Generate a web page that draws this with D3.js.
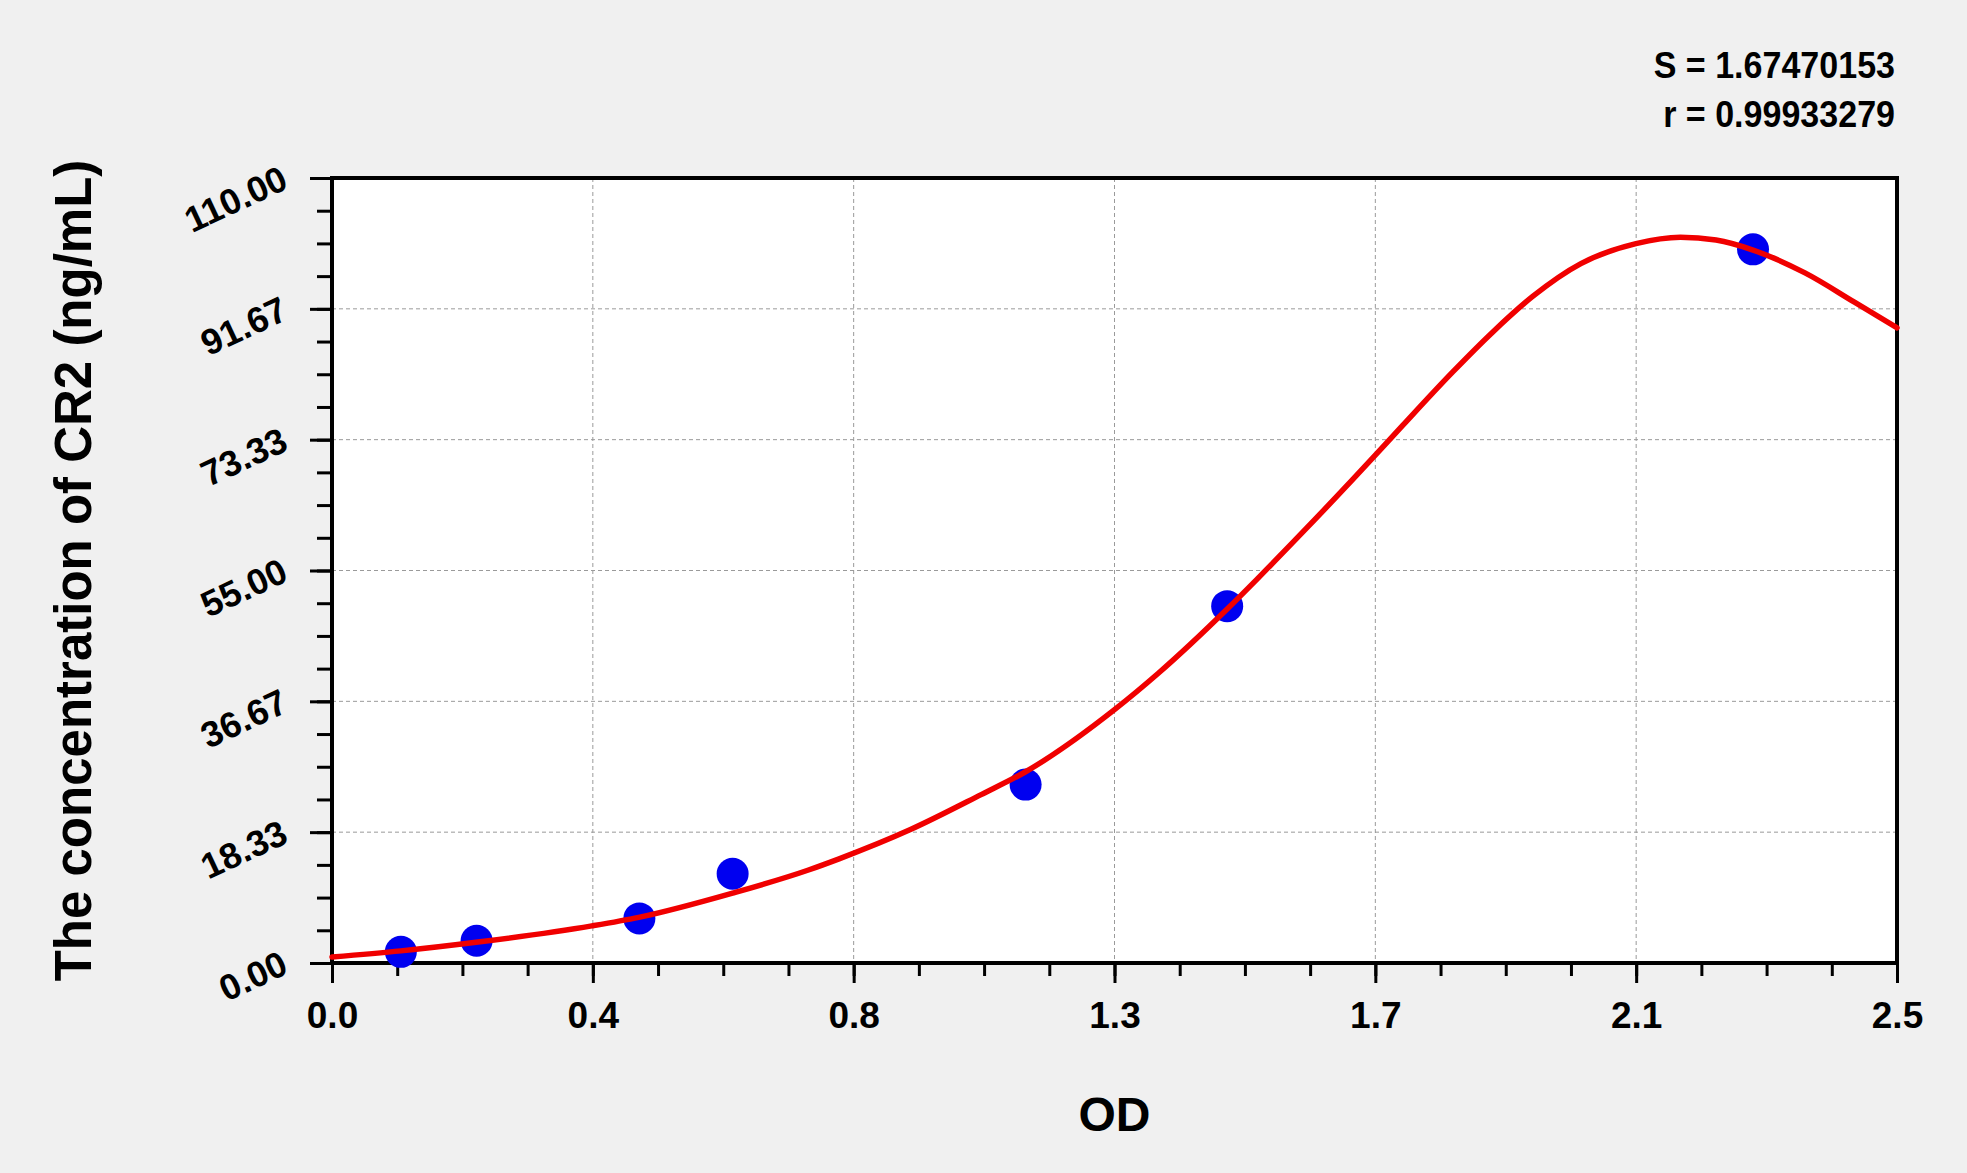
<!DOCTYPE html>
<html>
<head>
<meta charset="utf-8">
<script src="https://cdn.jsdelivr.net/npm/d3@7"></script>
<style>
  html, body { margin: 0; padding: 0; background: #f0f0f0; }
  svg { display: block; font-family: "Liberation Sans", Arial, sans-serif; font-weight: bold; }
  .grid line { stroke: #9a9a9a; stroke-width: 1; stroke-dasharray: 4,3; }
  .axis path { display: none; }
  .axis line { stroke: #000; stroke-width: 3; }
  .axis text { fill: #000; font-size: 36px; font-weight: bold; }
</style>
</head>
<body>
<svg id="chart"></svg>
<script>
// standards
var odValues = [0.110, 0.231, 0.491, 0.640, 1.108, 1.430, 2.270]
var concValues = [1.56, 3.12, 6.25, 12.5, 25, 50, 100]

// fitted curve
var curveOD = [0, 0.11, 0.23, 0.415, 0.49, 0.64, 0.76, 0.81, 0.924, 1.037, 1.108, 1.25, 1.32, 1.43, 1.479, 1.551, 1.631, 1.667, 1.71, 1.79, 1.854, 1.918, 1.995, 2.083, 2.154, 2.211, 2.27, 2.353, 2.432, 2.5]
var curveConc = [0.85, 1.7, 2.9, 5.2, 6.4, 9.8, 13.0, 14.6, 18.7, 23.6, 26.8, 35.5, 40.6, 49.6, 53.9, 60.4, 67.8, 71.2, 75.3, 82.8, 88.4, 93.4, 98.0, 100.8, 101.7, 101.3, 99.9, 96.7, 92.6, 89.0]

var xTicks = [0, 0.41667, 0.83333, 1.25, 1.66667, 2.08333, 2.5]
var xTickLabels = ["0.0", "0.4", "0.8", "1.3", "1.7", "2.1", "2.5"]
var yTicks = [0, 18.3333, 36.6667, 55, 73.3333, 91.6667, 110]
var yTickLabels = ["0.00", "18.33", "36.67", "55.00", "73.33", "91.67", "110.00"]

var statLines = ["S = 1.67470153", "r = 0.99933279"]
var xTitle = "OD"
var yTitle = "The concentration of CR2 (ng/mL)"

var W = 1967, H = 1173
var margin = {left: 332, right: 70, top: 178, bottom: 210}
var pw = W - margin.left - margin.right
var ph = H - margin.top - margin.bottom

var svg = d3.select("#chart")
    .attr("width", W)
    .attr("height", H)

svg.append("rect")
    .attr("width", W)
    .attr("height", H)
    .style("fill", "#f0f0f0")

var x = d3.scaleLinear().domain([0, 2.5]).range([0, pw])
var y = d3.scaleLinear().domain([0, 110]).range([ph, 0])

var g = svg.append("g")
    .attr("transform", "translate(" + margin.left + "," + margin.top + ")")

g.append("rect")
    .attr("width", pw)
    .attr("height", ph)
    .style("fill", "#fff")

// dashed grid on the major ticks
var grid = g.append("g").classed("grid", true)
grid.selectAll(".gx")
    .data(xTicks.slice(1, -1))
    .enter().append("line")
    .attr("x1", function (d) { return x(d) })
    .attr("x2", function (d) { return x(d) })
    .attr("y1", 0)
    .attr("y2", ph)
grid.selectAll(".gy")
    .data(yTicks.slice(1, -1))
    .enter().append("line")
    .attr("y1", function (d) { return y(d) })
    .attr("y2", function (d) { return y(d) })
    .attr("x1", 0)
    .attr("x2", pw)

// minor ticks, 4 steps between each major
var xMinor = d3.range(0, 25).map(function (i) { return 2.5 * i / 24 })
var yMinor = d3.range(0, 25).map(function (i) { return 110 * i / 24 })

g.append("g")
    .classed("axis", true)
    .attr("transform", "translate(0," + ph + ")")
    .call(d3.axisBottom(x).tickValues(xMinor).tickSize(13).tickFormat(""))

g.append("g")
    .classed("axis", true)
    .call(d3.axisLeft(y).tickValues(yMinor).tickSize(15).tickFormat(""))

var xAxis = g.append("g")
    .classed("axis", true)
    .attr("transform", "translate(0," + ph + ")")
    .call(d3.axisBottom(x).tickValues(xTicks).tickSize(20)
        .tickFormat(function (d, i) { return xTickLabels[i] }))
xAxis.selectAll("text")
    .attr("y", 65)
    .attr("dy", 0)
    .style("font-size", "37px")

var yAxis = g.append("g")
    .classed("axis", true)
    .call(d3.axisLeft(y).tickValues(yTicks).tickSize(22)
        .tickFormat(function (d, i) { return yTickLabels[i] }))
yAxis.selectAll("text")
    .attr("x", 0)
    .attr("dy", 0)
    .style("text-anchor", "end")
    .attr("transform", "translate(-42,9) rotate(-25)")

// frame
g.append("rect")
    .attr("width", pw)
    .attr("height", ph)
    .style("fill", "none")
    .style("stroke", "#000")
    .style("stroke-width", 4)

// standards
g.selectAll(".pt")
    .data(odValues)
    .enter().append("circle")
    .attr("cx", function (d) { return x(d) })
    .attr("cy", function (d, i) { return y(concValues[i]) })
    .attr("r", 16)
    .style("fill", "#0000f0")

var line = d3.line()
    .x(function (d) { return x(d) })
    .y(function (d, i) { return y(curveConc[i]) })
    .curve(d3.curveMonotoneX)

g.append("path")
    .datum(curveOD)
    .attr("d", line)
    .style("fill", "none")
    .style("stroke", "#f00000")
    .style("stroke-width", 5.5)
    .style("stroke-linejoin", "round")
    .style("stroke-linecap", "round")

// titles
svg.append("text")
    .text(xTitle)
    .attr("x", margin.left + pw / 2)
    .attr("y", 1131)
    .style("text-anchor", "middle")
    .style("font-size", "48px")

svg.append("text")
    .text(yTitle)
    .attr("transform", "translate(91," + (margin.top + ph / 2) + ") rotate(-90)")
    .style("text-anchor", "middle")
    .style("font-size", "51px")

svg.selectAll(".stat")
    .data(statLines)
    .enter().append("text")
    .text(function (d) { return d })
    .attr("transform", function (d, i) { return "translate(1895," + (78 + i * 49) + ") scale(0.92,1)" })
    .style("text-anchor", "end")
    .style("font-size", "37px")
</script>
</body>
</html>
